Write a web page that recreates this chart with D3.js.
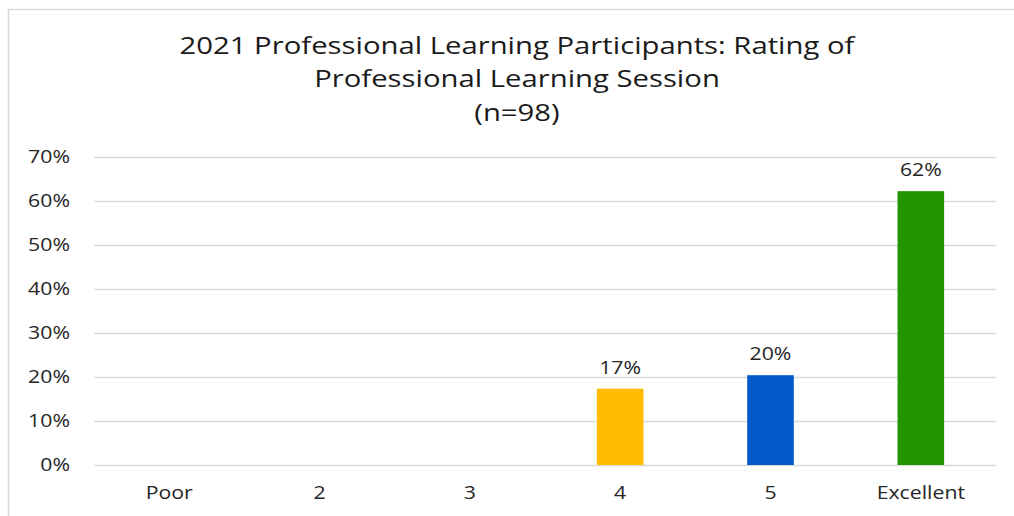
<!DOCTYPE html>
<html><head><meta charset="utf-8">
<script src="https://cdn.jsdelivr.net/npm/d3@7"></script>
<style>body{margin:0;background:#fff;}svg{display:block;}</style>
</head><body>
<svg id="c" width="1014" height="516"></svg>
<script>
const categories = ["Poor", "2", "3", "4", "5", "Excellent"];
const values = [0, 0, 0, 17.35, 20.41, 62.24];
const labels = ["", "", "", "17%", "20%", "62%"];
const colors = ["#ffbc00", "#ffbc00", "#ffbc00", "#ffbc00", "#0058c9", "#239400"];
const yTicks = [0, 10, 20, 30, 40, 50, 60, 70];
const titleLines = ["2021 Professional Learning Participants: Rating of", "Professional Learning Session", "(n=98)"];

const svg = d3.select("#c");
const W = 1014, H = 516;
const m = {left: 94, right: 18, top: 157, bottom: 51};
const FONT = "'Open Sans', 'DejaVu Sans', sans-serif";
const SX = 1.15, TSX = 1.22;

function stretch(sel, sx) {
  sel.each(function() {
    const t = d3.select(this);
    const x0 = +(t.attr("x") || 0);
    t.attr("x", x0 / sx).attr("transform", `scale(${sx},1)`);
  });
}

const x = d3.scaleBand().domain(categories).range([m.left, W - m.right]).paddingInner(0.69).paddingOuter(0.345);
const y = d3.scaleLinear().domain([0, 70]).range([H - m.bottom, m.top]);

// frame
svg.append("path").attr("d", `M8.5,${H} L8.5,9.5 L${W},9.5`).attr("fill", "none").attr("stroke", "#d9d9d9").attr("stroke-width", 1.5);

// title
const tt = svg.append("g").selectAll("text").data(titleLines).join("text")
  .attr("x", 517).attr("y", (d, i) => 54 + i * 33.5)
  .attr("text-anchor", "middle")
  .attr("font-family", FONT)
  .attr("font-size", 24).attr("fill", "#1a1a1a")
  .text(d => d);
stretch(tt, TSX);

// grid + y axis
const yAxis = d3.axisLeft(y).tickValues(yTicks).tickFormat(d => d + "%").tickSize(-(W - m.left - m.right)).tickPadding(24);
const gy = svg.append("g").attr("transform", `translate(${m.left},0)`).call(yAxis);
gy.select(".domain").remove();
gy.selectAll(".tick line").attr("stroke", "#d9d9d9").attr("stroke-width", 1.5);
gy.selectAll(".tick text").attr("font-family", FONT).attr("font-size", 18.5).attr("fill", "#262626");
stretch(gy.selectAll(".tick text"), SX);

// x axis
const xAxis = d3.axisBottom(x).tickSize(0).tickPadding(21);
const gx = svg.append("g").attr("transform", `translate(0,${H - m.bottom})`).call(xAxis);
gx.select(".domain").remove();
gx.selectAll(".tick text").attr("font-family", FONT).attr("font-size", 18.5).attr("fill", "#262626");
stretch(gx.selectAll(".tick text"), SX);

// bars
svg.append("g").selectAll("rect").data(categories).join("rect")
  .attr("x", d => x(d)).attr("width", x.bandwidth())
  .attr("y", (d, i) => y(values[i])).attr("height", (d, i) => y(0) - y(values[i]))
  .attr("fill", (d, i) => colors[i]);

// labels
const lt = svg.append("g").selectAll("text").data(categories).join("text")
  .attr("x", d => x(d) + x.bandwidth() / 2)
  .attr("y", (d, i) => y(values[i]) - 15)
  .attr("text-anchor", "middle")
  .attr("font-family", FONT).attr("font-size", 18.5).attr("fill", "#262626")
  .text((d, i) => labels[i]);
stretch(lt, SX);
</script>
</body></html>
